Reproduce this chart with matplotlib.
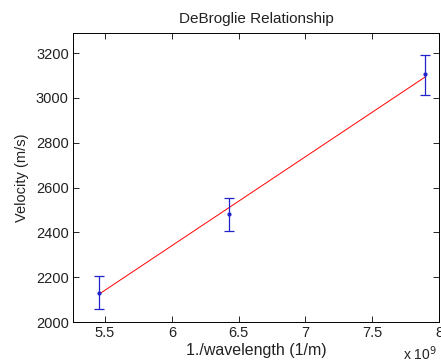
import matplotlib
matplotlib.use("Agg")
import matplotlib.pyplot as plt

plt.rcParams['font.family'] = ['Liberation Sans', 'DejaVu Sans']

# data (x in units of 1e9 1/m)
inv_wavelength = [5.457, 6.43, 7.897]
velocity = [2129, 2480, 3105]
err_low = [70, 75, 92]
err_high = [76, 75, 88]
fit_x = [5.457, 7.897]
fit_y = [2125, 3094]

fig = plt.figure(figsize=(4.41, 3.62), dpi=100)
ax = fig.add_axes([73/441, 40/362, 366/441, 289/362])

ax.plot(fit_x, fit_y, color='red', lw=0.7)
ax.errorbar(inv_wavelength, velocity, yerr=[err_low, err_high], fmt='.', color='#2222cc',
            ms=4, elinewidth=0.9, capsize=3.5, capthick=0.9)

ax.set_xlim(5.26, 8.0)
ax.set_ylim(2000, 3290)
ax.set_xticks([5.5, 6, 6.5, 7, 7.5, 8])
ax.set_xticklabels(['5.5', '6', '6.5', '7', '7.5', '8'])
ax.set_yticks(range(2000, 3201, 200))
ax.tick_params(direction='in', top=True, right=True, labelsize=10.5, length=4, width=0.6, pad=3,
               labelcolor='#222222')
for s in ax.spines.values():
    s.set_linewidth(0.7)

ax.set_title('DeBroglie Relationship', fontsize=11, pad=7, color='#222222')
ax.set_xlabel('1./wavelength (1/m)', fontsize=11.5, labelpad=2, color='#222222')
ax.set_ylabel('Velocity (m/s)', fontsize=10.5, labelpad=5, color='#222222')
fig.text(403/441, 1 - 354/362, 'x 10$^{9}$', fontsize=10, va='center', ha='left', color='#222222')

fig.savefig('out.png', dpi=100)
